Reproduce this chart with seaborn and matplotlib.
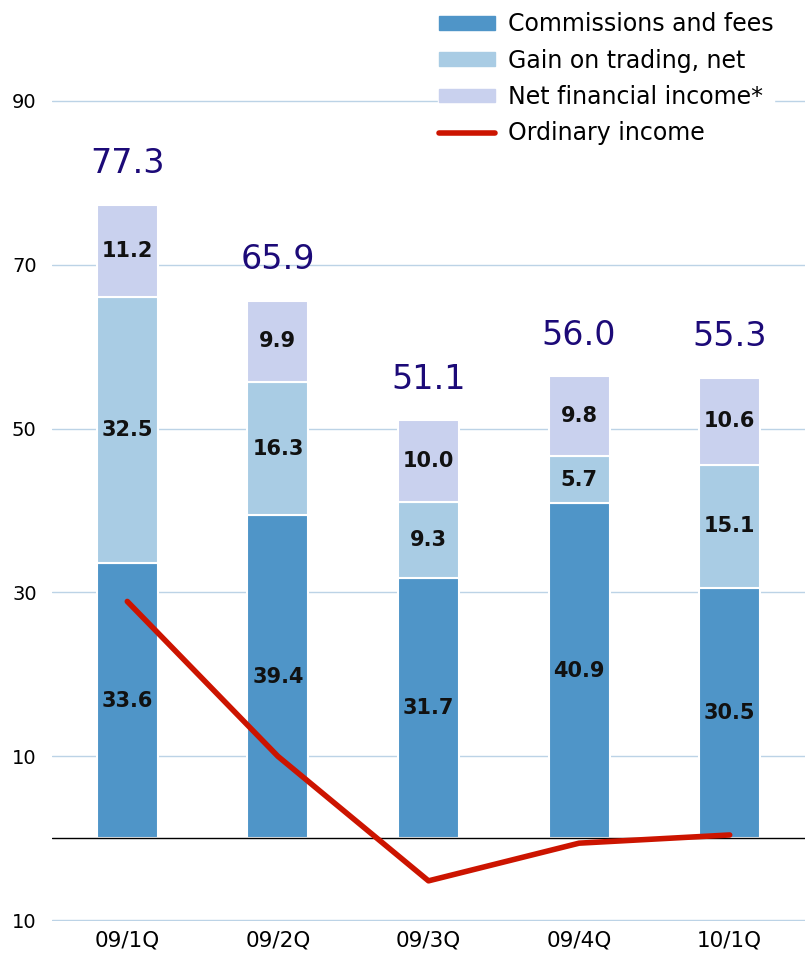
import matplotlib
matplotlib.use("Agg")
import matplotlib.pyplot as plt
import matplotlib.ticker as mticker
from matplotlib.patches import Patch
from matplotlib.lines import Line2D
import numpy as np
import seaborn as sns

quarters = ['09/1Q', '09/2Q', '09/3Q', '09/4Q', '10/1Q']
commissions = [33.6, 39.4, 31.7, 40.9, 30.5]
trading = [32.5, 16.3, 9.3, 5.7, 15.1]
net_financial = [11.2, 9.9, 10.0, 9.8, 10.6]
totals = [77.3, 65.9, 51.1, 56.0, 55.3]
ordinary = [28.9, 10.0, -5.2, -0.6, 0.4]

c_comm = '#4f95c8'
c_trad = '#a9cce4'
c_nfi = '#c9d1ee'
c_line = '#cc1400'
c_total = '#1c0a78'

sns.set_style('white')
plt.rcParams['font.family'] = ['DejaVu Sans']

fig = plt.figure(figsize=(8.05, 9.63), dpi=100)
ax = fig.add_axes([52 / 805, 1 - 921 / 963, 1 - 52 / 805, 921 / 963])

comm = np.array(commissions)
trad = np.array(trading)
nfi = np.array(net_financial)
w = 0.405
bar_kw = dict(width=w, edgecolor='white', linewidth=1.5, ax=ax, zorder=2)
sns.barplot(x=quarters, y=comm, color=c_comm, saturation=1, **bar_kw)
sns.barplot(x=quarters, y=trad, bottom=comm, color=c_trad, saturation=1, **bar_kw)
sns.barplot(x=quarters, y=nfi, bottom=comm + trad, color=c_nfi, saturation=1, **bar_kw)

# segment labels + totals
for i in range(len(quarters)):
    for base, h in [(0, comm[i]), (comm[i], trad[i]), (comm[i] + trad[i], nfi[i])]:
        ax.text(i, base + h / 2, f'{h:.1f}', ha='center', va='center',
                fontsize=15, color='#111111', fontweight='bold', zorder=4)
    ax.text(i, comm[i] + trad[i] + nfi[i] + 3.0, f'{totals[i]:.1f}',
            ha='center', va='bottom', fontsize=24, color=c_total, zorder=4)

sns.lineplot(x=np.arange(len(quarters)), y=ordinary, color=c_line, lw=4,
             ax=ax, zorder=3)

ax.axhline(0, color='black', lw=1, zorder=2.5)
ax.set_xlim(-0.5, len(quarters) - 0.5)
ax.set_ylim(-10.1, 102.3)
ax.set_yticks([-10, 10, 30, 50, 70, 90])
ax.yaxis.set_major_formatter(mticker.FuncFormatter(lambda v, p: f'{abs(v):.0f}'))
ax.grid(axis='y', color='#bcd3e6', lw=1)
ax.set_axisbelow(True)
for s in ax.spines.values():
    s.set_visible(False)
ax.tick_params(axis='both', length=0, colors='black')
ax.tick_params(axis='y', pad=11, labelsize=14)
ax.tick_params(axis='x', pad=7, labelsize=15.5)
ax.set_xlabel('')
ax.set_ylabel('')

handles = [Patch(color=c_comm), Patch(color=c_trad), Patch(color=c_nfi),
           Line2D([0], [0], color=c_line, lw=4)]
labels = ['Commissions and fees', 'Gain on trading, net',
          'Net financial income*', 'Ordinary income']
leg = ax.legend(handles, labels, loc='upper right', bbox_to_anchor=(0.975, 1.0),
                frameon=True, framealpha=1, edgecolor='white', facecolor='white',
                prop={'size': 17}, labelcolor='black', handlelength=2.4,
                handleheight=0.5, labelspacing=0.52, borderpad=0.02,
                handletextpad=0.55)
leg.set_zorder(5)

fig.savefig('out.png', dpi=100)
